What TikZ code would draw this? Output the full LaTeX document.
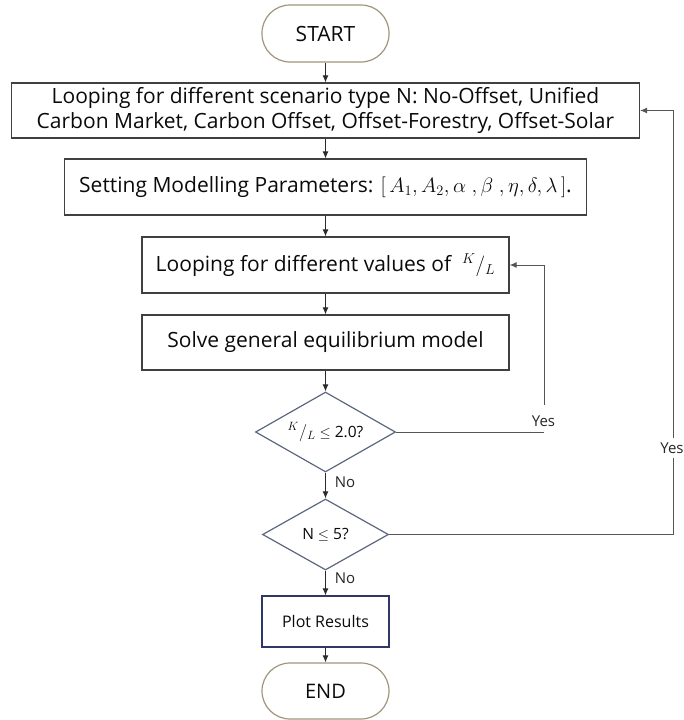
\documentclass[tikz,border=0pt]{standalone}
\usepackage{fontspec}
\setmainfont{Open Sans}
\usetikzlibrary{shapes.geometric,arrows.meta}
\definecolor{boxgray}{HTML}{404040}
\definecolor{termtan}{HTML}{A0957A}
\definecolor{slate}{HTML}{5D6680}
\definecolor{navyb}{HTML}{2E3766}
\definecolor{txt}{HTML}{0A0A0A}
\definecolor{linec}{HTML}{2A2A2A}
\definecolor{loopc}{HTML}{555555}
\begin{document}
\begin{tikzpicture}[x=1pt,y=-1pt,
  every node/.style={text=txt},
  box/.style={draw=boxgray, line width=1.2pt, inner sep=0pt, align=center,
    font=\fontsize{21}{25.5}\selectfont},
  term/.style={draw=termtan, line width=1.2pt, rounded corners=28pt,
    minimum width=127pt, minimum height=57pt, inner sep=0pt,
    font=\fontsize{21}{24}\selectfont},
  dec/.style={draw=slate, line width=1.2pt, diamond, aspect=1.75, inner sep=0pt,
    font=\fontsize{15.5}{18}\selectfont},
  plotbox/.style={draw=navyb, line width=1.2pt, inner sep=0pt,
    font=\fontsize{16}{18}\selectfont},
  arr/.style={draw=linec, line width=1pt, -{Latex[length=7pt,width=6pt]}},
  loopline/.style={draw=loopc, line width=1pt},
  looparr/.style={draw=loopc, line width=1pt, -{Latex[length=7pt,width=6pt]}},
  lbl/.style={font=\fontsize{15}{17}\selectfont, text=black!85, inner sep=1pt}]
\useasboundingbox (0,0) rectangle (684,720);

\node[term] (start) at (325.5,33.5) {START};
\node[box, minimum width=628pt, minimum height=55pt] (b1) at (325.5,110.5)
  {Looping for different scenario type N: No-Offset, Unified\\
   Carbon Market, Carbon Offset, Offset-Forestry, Offset-Solar};
\node[box, minimum width=522pt, minimum height=56pt] (b2) at (325.5,187)
  {Setting Modelling Parameters: {\fontsize{21.5}{25}\selectfont$[\,A_1, A_2, \alpha\ , \beta\ , \eta, \delta, \lambda\,]$}.};
\node[box, minimum width=367pt, minimum height=56pt] (b3) at (325.5,265)
  {Looping for different values of \ {\fontsize{22}{25}\selectfont${}^{K}/{}_{L}$}};
\node[box, minimum width=367pt, minimum height=55pt] (b4) at (325.5,342.5)
  {Solve general equilibrium model};
\node[dec, minimum width=140pt, minimum height=80pt] (d1) at (325.5,432)
  {{\fontsize{17}{18}\selectfont${}^{K}/{}_{L}$} $\leq$ 2.0?};
\node[dec, minimum width=126pt, minimum height=71pt] (d2) at (325.5,534.5)
  {N $\leq$ 5?};
\node[plotbox, minimum width=127pt, minimum height=51pt] (plot) at (325.5,621.5)
  {Plot Results};
\node[term, minimum height=56pt, font=\fontsize{20}{24}\selectfont] (end) at (325.5,691) {END};

\draw[arr] (start) -- (b1);
\draw[arr] (b1) -- (b2);
\draw[arr] (b2) -- (b3);
\draw[arr] (b3) -- (b4);
\draw[arr] (b4) -- (d1);
\draw[arr] (d1) -- (d2);
\draw[arr] (d2) -- (plot);
\draw[arr] (plot) -- (end);

% inner loop
\coordinate (c1) at (544,432);
\coordinate (c1top) at (544,405);
\draw[loopline] (d1.east) -- (c1);
\draw[looparr] (c1top) |- (b3.east);
\node[lbl] (yes1) at (543.5,421) {Yes};

% outer loop
\coordinate (c2) at (673,534.5);
\draw[looparr] (d2.east) -- (c2) |- (b1.east);
\node[lbl, fill=white, inner ysep=5pt] (yes2) at (672,448) {Yes};

\node[lbl] (no1) at (345,482) {No};
\node[lbl] (no2) at (345,578) {No};
\end{tikzpicture}
\end{document}
